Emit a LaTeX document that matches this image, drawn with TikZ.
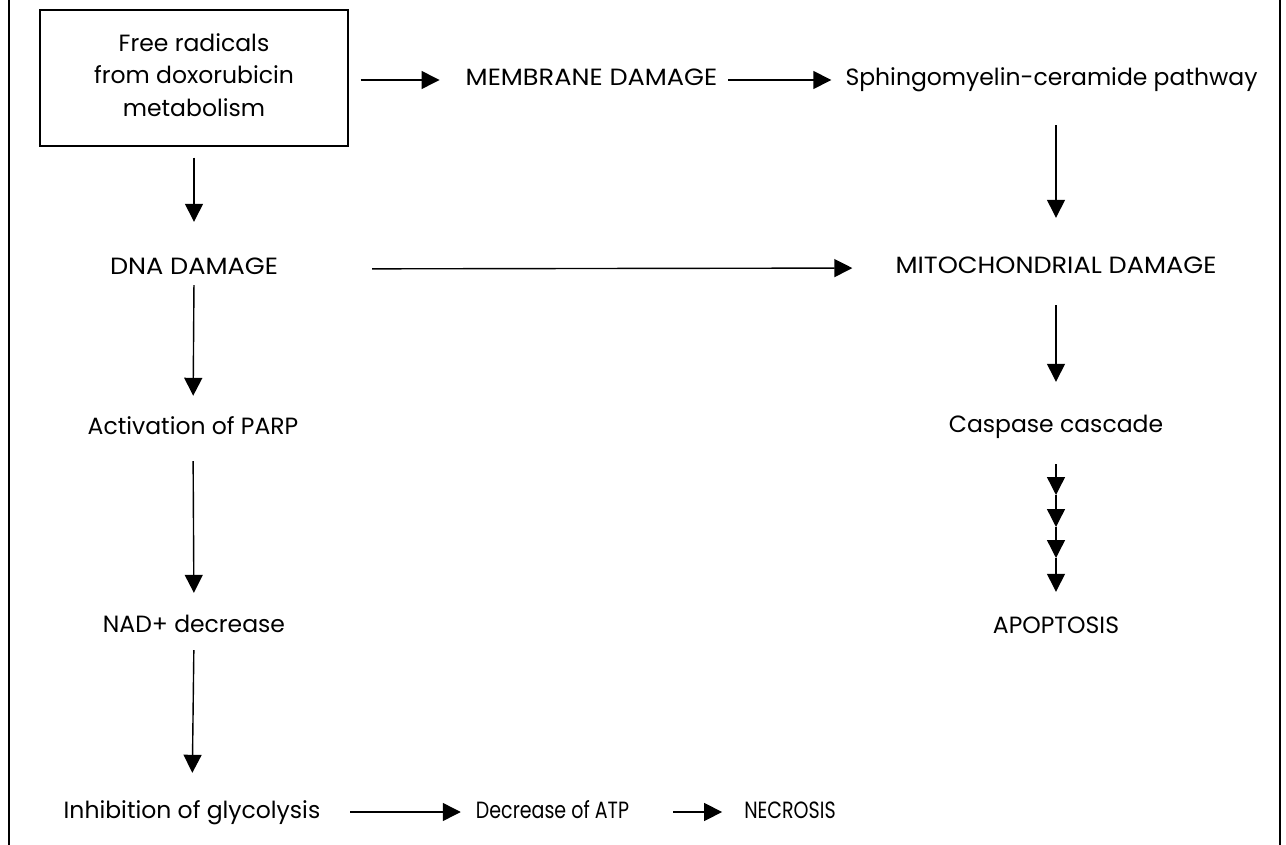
\documentclass[tikz,border=0pt]{standalone}
\usepackage{fontspec}
\setmainfont{Poppins}
\newfontfamily\widefont[FakeStretch=1.09]{Poppins}
\newfontfamily\condfont[FakeStretch=0.81]{Poppins}
\usetikzlibrary{arrows.meta}
\begin{document}
\begin{tikzpicture}[x=1pt,y=-1pt,
  lbl/.style={inner sep=0pt, text height=17pt, text depth=5pt, anchor=base,
    font=\fontsize{23.5}{32.5}\selectfont, align=center},
  widelbl/.style={lbl, font=\widefont\fontsize{23.5}{32.5}\selectfont},
  condlbl/.style={lbl, font=\condfont\fontsize{23.5}{32.5}\selectfont},
  arr/.style={line width=1.4pt, -{Triangle[length=18pt,width=18pt]}},
  frame/.style={line width=2.4pt}]
\useasboundingbox (0,0) rectangle (1286,845);
% outer frame sides
\coordinate (fl1) at (9,0); \coordinate (fl2) at (9,845);
\coordinate (fr1) at (1280,0); \coordinate (fr2) at (1280,845);
\draw[frame] (fl1) -- (fl2);
\draw[frame] (fr1) -- (fr2);
% nodes
\node[draw, line width=1.1pt, minimum width=308pt, minimum height=136pt, inner sep=0pt,
  font=\fontsize{23.5}{32.5}\selectfont, align=center] (box) at (194,78)
  {Free radicals\\from doxorubicin\\metabolism\rule[-6pt]{0pt}{0pt}};
\node[widelbl, minimum width=251pt] (mem) at (591.5,86) {MEMBRANE DAMAGE};
\node[lbl, minimum width=411pt] (sph) at (1051.5,86) {Sphingomyelin-ceramide pathway};
\node[widelbl, minimum width=168pt] (dna) at (194,275) {DNA DAMAGE};
\node[widelbl, minimum width=317pt] (mito) at (1056,274) {MITOCHONDRIAL DAMAGE};
\node[lbl, minimum width=213pt] (parp) at (193,434) {Activation of PARP};
\node[lbl, minimum width=213pt] (casp) at (1056,432) {Caspase cascade};
\node[lbl, minimum width=185pt] (nad) at (194,632) {NAD+ decrease};
\node[lbl, minimum width=125pt] (apo) at (1056,633) {APOPTOSIS};
\node[lbl, minimum width=247pt] (inh) at (192,818) {Inhibition of glycolysis};
\node[condlbl, minimum width=151pt] (atp) at (552.5,818) {Decrease of ATP};
\node[condlbl, minimum width=90pt] (nec) at (790,818) {NECROSIS};
% horizontal connectors
\draw[arr, shorten <=12pt, shorten >=26pt] (box.east |- mem.west) -- (mem.west);
\draw[arr, shorten <=11pt, shorten >=14pt] (mem.east) -- (sph.west);
\draw[arr, shorten <=94pt, shorten >=43pt] (dna.east) -- (mito.west);
\draw[arr, shorten <=30pt, shorten >=15pt] (inh.east) -- (atp.west);
\draw[arr, shorten <=44pt, shorten >=22pt] (atp.east) -- (nec.west);
% vertical connectors, left column
\draw[arr, shorten <=11pt, shorten >=36pt] (box.south) -- (dna.north);
\draw[arr, shorten <=5pt, shorten >=21pt] (dna.south) -- (parp.north);
\draw[arr, shorten <=22pt, shorten >=22pt] (parp.south) -- (nad.north);
\draw[arr, shorten <=13pt, shorten >=28pt] (nad.south) -- (inh.north);
% vertical connectors, right column
\draw[arr, shorten <=34pt, shorten >=39pt] (sph.south -| mito.north) -- (mito.north);
\draw[arr, shorten <=26pt, shorten >=33pt] (mito.south) -- (casp.north);
\coordinate (k1) at (1056,495);
\coordinate (k2) at (1056,527);
\coordinate (k3) at (1056,558);
\draw[arr, shorten <=27pt] (casp.south) -- (k1);
\draw[arr] (k1) -- (k2);
\draw[arr] (k2) -- (k3);
\draw[arr, shorten >=24pt] (k3) -- (apo.north);
\end{tikzpicture}
\end{document}
